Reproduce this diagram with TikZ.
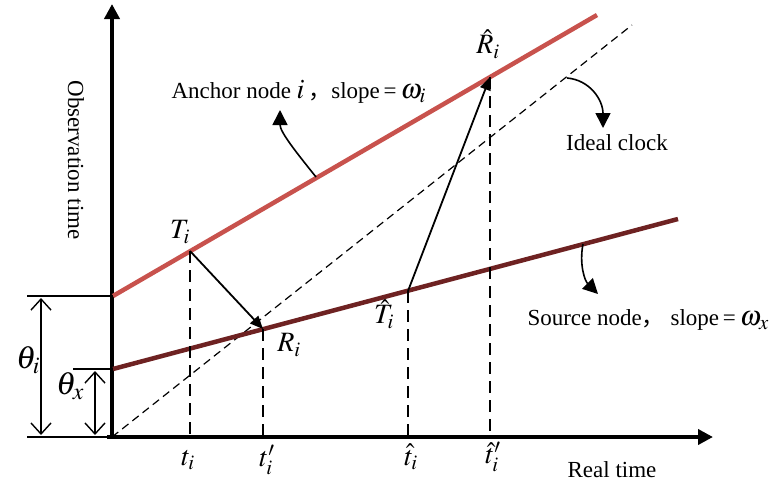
\documentclass[tikz,border=0pt]{standalone}
\usepackage{mathptmx}
\usepackage{fontspec}
\setmainfont{Liberation Serif}
\newfontfamily\cjkfont{Noto Sans CJK SC}
\usetikzlibrary{arrows.meta,positioning,calc}
\definecolor{anchorred}{RGB}{200,82,77}
\definecolor{sourcered}{RGB}{110,34,34}
\newcommand{\lblmath}[1]{{\fontsize{28}{30}\selectfont$#1$}}

\begin{document}
\begin{tikzpicture}[x=1pt,y=-1pt,font=\fontsize{23}{27}\selectfont,
 axisline/.style={line width=4.5pt,-{Triangle[length=15pt,width=15pt]}},
 guide/.style={line width=1.6pt,dash pattern=on 12pt off 7pt},
 msgarrow/.style={line width=1.8pt,-{Triangle[length=13pt,width=11pt]}},
 bendarrow/.style={line width=1.6pt,-{Triangle[length=15pt,width=15pt]}},
 offsetarrow/.style={line width=1.4pt,{Straight Barb[length=11pt,width=20pt]}-{Straight Barb[length=11pt,width=20pt]}},
 mlabel/.style={inner sep=1pt,font=\fontsize{28}{30}\selectfont},
 biglabel/.style={inner sep=1pt,font=\fontsize{32}{34}\selectfont}]
\useasboundingbox (0,0) rectangle (779,488);
% axes
\coordinate (O) at (112,437);
\draw[axisline] (O) -- (112,4);
\draw[axisline] (107,437) -- (713,437);
\node[rotate=-90] (obs) at (76,160) {Observation time};
\node (real) at (612,470) {Real time};
% clock lines
\draw[line width=1.2pt,dash pattern=on 8pt off 5pt] (O) -- (632,25);
\draw[anchorred,line width=4.5pt] (113,296) -- (597,15);
\draw[sourcered,line width=4.5pt] (113,369) -- (678,219);
% offsets
\draw[line width=1.8pt] (27,296) -- (113,296);
\draw[line width=1.8pt] (73,369) -- (113,369);
\draw[line width=1.8pt] (27,437) -- (113,437);
\coordinate (thi1) at (41,298);
\coordinate (thi2) at (41,435);
\coordinate (thx1) at (95,371);
\coordinate (thx2) at (95,435);
\draw[offsetarrow] (thi1) -- (thi2);
\draw[offsetarrow] (thx1) -- (thx2);
\node[biglabel] (thetai) at (28,360) {$\theta_i$};
\node[biglabel] (thetax) at (70,386) {$\theta_x$};
% time stamps
\coordinate (Ti) at (190,251);
\coordinate (Ri) at (263,329);
\coordinate (hTi) at (408,291);
\coordinate (hRi) at (490,77);
\foreach \p/\q in {Ti/190,Ri/263,hTi/408,hRi/490}
 \draw[guide] (\p) -- (\q,437);
\draw[msgarrow] (Ti) -- (Ri);
\draw[msgarrow] (hTi) -- (hRi);
\node[mlabel] (lTi) at (180,232) {$T_i$};
\node[mlabel] (lRi) at (289,345) {$R_i$};
\node[mlabel] (lhTi) at (384,314) {$\hat{T}_i$};
\node[mlabel] (lhRi) at (488,44) {$\hat{R}_i$};
\node[mlabel] (ti) at (188,460) {$t_i$};
\node[mlabel] (tpi) at (267,460) {$t'_i$};
\node[mlabel] (hti) at (411,457) {$\hat{t}_i$};
\node[mlabel] (htpi) at (493,457) {$\hat{t}'_i$};
% line labels
\node[anchor=west] (anc) at (168,92) {Anchor node \lblmath{i}\,{\cjkfont ，}slope\,=\,\lblmath{\omega_i}};
\node (ideal) at (617,143) {Ideal clock};
\node[anchor=west] (src) at (524,320) {Source node{\cjkfont ，}\ slope\,=\,\lblmath{\omega_x}};
\coordinate (ancfrom) at (316,177);
\coordinate (idealfrom) at (567,78);
\coordinate (srcfrom) at (583,244);
\draw[bendarrow] (ancfrom) .. controls (296,152) and (280,132) .. (280,110);
\draw[bendarrow] (idealfrom) .. controls (590,80) and (603,100) .. (603,128);
\draw[bendarrow] (srcfrom) .. controls (579,265) and (585,281) .. (598,294);
\end{tikzpicture}
\end{document}
